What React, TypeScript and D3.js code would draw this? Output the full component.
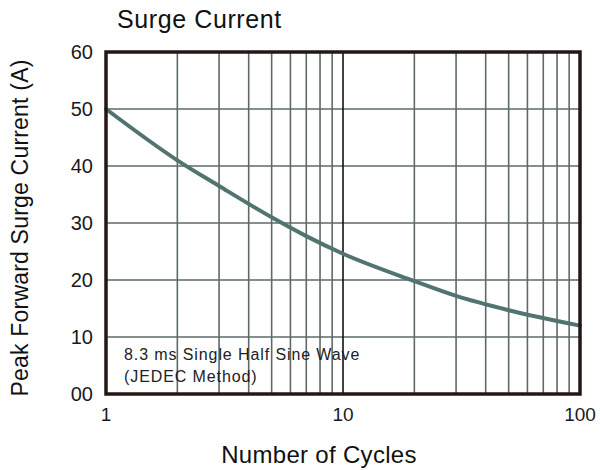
import React from "react";
import * as d3 from "d3";

const cycles = [1, 2, 3, 5, 7, 10, 20, 30, 50, 100];
const current = [50, 41.0, 36.5, 31.0, 27.7, 24.6, 19.8, 17.2, 14.7, 12.0];
const yTicks = [0, 10, 20, 30, 40, 50, 60];
const yTickLabels = ["00", "10", "20", "30", "40", "50", "60"];
const xTicks = [1, 10, 100];
const xGrid = [2, 3, 4, 5, 6, 7, 8, 9, 10, 20, 30, 40, 50, 60, 70, 80, 90];

export default function App() {
  const W = 600, H = 470;
  const L = 106, R = 580, T = 52, B = 394;
  const x = d3.scaleLog().domain([1, 100]).range([L, R]);
  const y = d3.scaleLinear().domain([0, 60]).range([B, T]);
  const line = d3.line<number>()
    .x((_, i) => x(cycles[i]))
    .y((d) => y(d))
    .curve(d3.curveMonotoneX);
  const font = "Liberation Sans, Arial, sans-serif";
  const grid = "#5d6a67";
  return (
    <svg width={W} height={H} style={{ position: "absolute", left: 0, top: 0 }} fontFamily={font}>
      <rect width={W} height={H} fill="#fff" />
      <text x={117} y={28} fontSize={25} letterSpacing={0.6} fill="#111">Surge Current</text>
      {yTicks.filter((v) => v > 0 && v < 60).map((v) => (
        <line key={"h" + v} x1={L} x2={R} y1={y(v)} y2={y(v)} stroke={grid} strokeWidth={1.6} />
      ))}
      {xGrid.map((v) => (
        <line key={"v" + v} x1={x(v)} x2={x(v)} y1={T} y2={B} stroke={v === 10 ? "#111" : grid} strokeWidth={1.6} />
      ))}
      <path d={line(current) || ""} fill="none" stroke="#527471" strokeWidth={4} strokeLinecap="round" />
      <rect x={L} y={T} width={R - L} height={B - T} fill="none" stroke="#231815" strokeWidth={3.5} />
      {yTicks.map((v, i) => (
        <text key={"yt" + v} x={93} y={y(v) + 7} fontSize={20} textAnchor="end" fill="#1a1a1a">{yTickLabels[i]}</text>
      ))}
      {xTicks.map((v) => (
        <text key={"xt" + v} x={x(v)} y={421} fontSize={19} textAnchor="middle" fill="#1a1a1a">{v}</text>
      ))}
      <text x={124} y={360} fontSize={16} letterSpacing={0.9} fill="#222">8.3 ms Single Half Sine Wave</text>
      <text x={124} y={382} fontSize={16} letterSpacing={0.9} fill="#222">(JEDEC Method)</text>
      <text x={319} y={463} fontSize={24} letterSpacing={0.3} textAnchor="middle" fill="#111">Number of Cycles</text>
      <text transform="translate(28,228) rotate(-90)" fontSize={23} letterSpacing={0.2} textAnchor="middle" fill="#111">Peak Forward Surge Current (A)</text>
    </svg>
  );
}
